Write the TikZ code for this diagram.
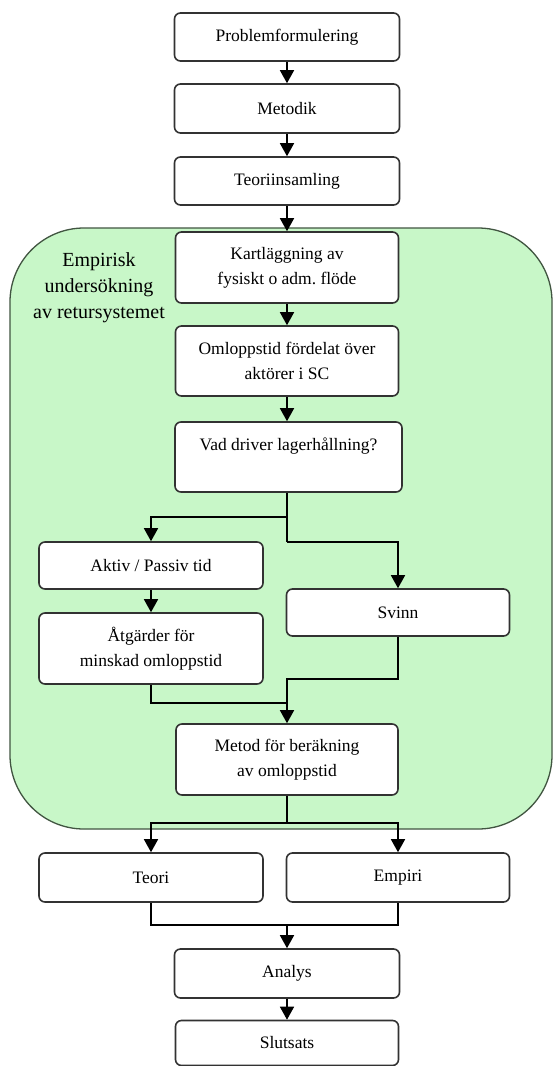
\documentclass[tikz,border=0pt]{standalone}
\usepackage{fontspec}
\setmainfont{Liberation Serif}
\usetikzlibrary{arrows.meta}
\frenchspacing
\definecolor{regionfill}{RGB}{200,247,200}
\definecolor{regionline}{RGB}{65,85,65}
\definecolor{boxline}{RGB}{50,50,50}
\begin{document}
\begin{tikzpicture}[x=1pt,y=-1pt,
  stepbox/.style={draw=boxline,line width=1.6pt,fill=white,rounded corners=6pt,
    inner sep=0pt,align=center,font=\fontsize{17.5}{25}\selectfont},
  link/.style={draw=black,line width=1.6pt},
  arr/.style={link,-{Triangle[width=14pt,length=13pt]}}]
\useasboundingbox (0,0) rectangle (559,1066);
\fill[white] (0,0) rectangle (559,1066);

% shaded region for the empirical study
\draw[regionline,line width=1.3pt,fill=regionfill,rounded corners=74pt]
  (10,228) rectangle (552,829);
\node[align=center,font=\fontsize{20}{26}\selectfont] (lbl) at (99,288)
  {Empirisk\\undersökning\\av retursystemet};

% main column
\node[stepbox,minimum width=225,minimum height=48] (prob) at (287,37) {Problemformulering};
\node[stepbox,minimum width=225,minimum height=49] (met) at (287,108.5) {Metodik};
\node[stepbox,minimum width=225,minimum height=48] (teo) at (287,181) {Teoriinsamling};
\node[stepbox,minimum width=223,minimum height=71] (kart) at (287,267.5) {Kartläggning av\\fysiskt o adm.\ flöde};
\node[stepbox,minimum width=223,minimum height=70] (oml) at (287,361) {Omloppstid fördelat över\\aktörer i SC};
\node[stepbox,minimum width=227,minimum height=70] (vad) at (288.5,457) {Vad driver lagerhållning?\\\mbox{}};

% branches
\node[stepbox,minimum width=224,minimum height=47] (akt) at (151,565.5) {Aktiv / Passiv tid};
\node[stepbox,minimum width=224,minimum height=71] (atg) at (151,648.5) {Åtgärder för\\minskad omloppstid};
\node[stepbox,minimum width=223,minimum height=47] (svi) at (398,612.5) {Svinn};
\node[stepbox,minimum width=222,minimum height=71] (mber) at (287,759.5) {Metod för beräkning\\av omloppstid};

% results
\node[stepbox,minimum width=224,minimum height=49] (teori) at (151,877.5) {Teori};
\node[stepbox,minimum width=223,minimum height=49] (empiri) at (398,877.5) {Empiri};
\node[stepbox,minimum width=225,minimum height=49] (analys) at (287,973.5) {Analys};
\node[stepbox,minimum width=223,minimum height=45] (slut) at (287,1043) {Slutsats};

% junction points
\coordinate (splitA) at (287,517);
\coordinate (splitB) at (287,542);
\coordinate (joinA) at (287,703);
\coordinate (joinB) at (287,679);
\coordinate (splitC) at (287,823);
\coordinate (joinC) at (287,925);

% connectors
\draw[arr] (prob) -- (met);
\draw[arr] (met) -- (teo);
\draw[arr] (teo) -- (kart);
\draw[arr] (kart) -- (oml);
\draw[arr] (oml) -- (oml.south |- vad.north);
\draw[link] (vad.south -| splitA) -- (splitB);
\draw[arr] (splitA) -| (akt.north);
\draw[arr] (splitB) -| (svi.north);
\draw[arr] (akt) -- (atg);
\draw[link] (atg.south) |- (joinA);
\draw[link] (svi.south) |- (joinB) -- (joinA);
\draw[arr] (joinA) -- (mber.north);
\draw[link] (mber.south) -- (splitC);
\draw[arr] (splitC) -| (teori.north);
\draw[arr] (splitC) -| (empiri.north);
\draw[link] (teori.south) |- (joinC);
\draw[link] (empiri.south) |- (joinC);
\draw[arr] (joinC) -- (analys.north);
\draw[arr] (analys) -- (slut);
\end{tikzpicture}
\end{document}
